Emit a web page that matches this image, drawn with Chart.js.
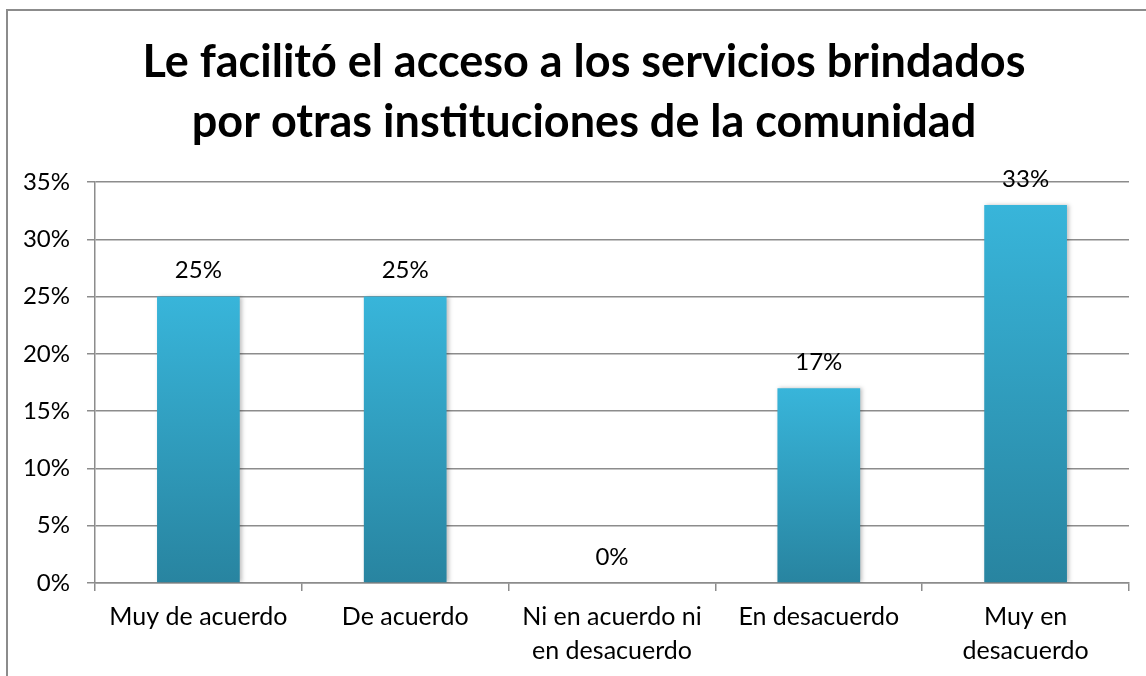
<!DOCTYPE html>
<html lang="es">
<head>
<meta charset="utf-8">
<title>Acceso a servicios de otras instituciones</title>
<script src="https://cdn.jsdelivr.net/npm/chart.js@4/dist/chart.umd.min.js"></script>
<style>
    html, body { margin: 0; padding: 0; background: #fff; overflow: hidden; }
    #marco {
        position: absolute; left: 0; top: 0; width: 1146px; height: 676px;
    }
    #borde {
        position: absolute; left: 6px; top: 9px; width: 1200px; height: 720px;
        border: 2px solid #8c8c8c; box-sizing: border-box;
    }
    #grafica { position: absolute; left: 0; top: 0; }
</style>
</head>
<body>
<div id="marco">
    <div id="borde"></div>
    <canvas id="grafica" width="1146" height="676"></canvas>
</div>
<script>
const categorias = [
    'Muy de acuerdo',
    'De acuerdo',
    ['Ni en acuerdo ni', 'en desacuerdo'],
    'En desacuerdo',
    ['Muy en', 'desacuerdo']
];
const porcentajes = [25, 25, 0, 17, 33];
const tituloLineas = [
    'Le facilitó el acceso a los servicios brindados',
    'por otras instituciones de la comunidad'
];

const FUENTE = 'Lato, "Open Sans", sans-serif';
const COLOR_ARRIBA = '#38b5da';
const COLOR_ABAJO = '#2884a0';

// degradado vertical por barra, de su tope hasta la base
function degradadoBarra(ctx) {
    const chart = ctx.chart;
    const y = chart.scales.y;
    if (!chart.chartArea || !y) return COLOR_ARRIBA;
    const tope = y.getPixelForValue(ctx.raw);
    const base = y.getPixelForValue(0);
    if (base - tope < 1) return COLOR_ARRIBA;
    const g = chart.ctx.createLinearGradient(0, tope, 0, base);
    g.addColorStop(0, COLOR_ARRIBA);
    g.addColorStop(1, COLOR_ABAJO);
    return g;
}

// título centrado en el marco completo (que sigue más allá del borde derecho)
const tituloMarco = {
    id: 'tituloMarco',
    afterDraw(chart) {
        const c = chart.ctx;
        c.save();
        c.font = 'bold 45px ' + FUENTE;
        c.fillStyle = '#000';
        c.textAlign = 'center';
        c.textBaseline = 'middle';
        tituloLineas.forEach((linea, i) => c.fillText(linea, 584, 62 + i * 60));
        c.restore();
    }
};

// sombra suave a la derecha de las barras
const sombraBarras = {
    id: 'sombraBarras',
    beforeDatasetsDraw(chart) {
        const c = chart.ctx;
        c.save();
        c.shadowColor = 'rgba(0,0,0,0.25)';
        c.shadowBlur = 4;
        c.shadowOffsetX = 2;
        c.shadowOffsetY = 0;
    },
    afterDatasetsDraw(chart) {
        chart.ctx.restore();
    }
};

// etiquetas de porcentaje sobre cada barra
const etiquetasValor = {
    id: 'etiquetasValor',
    afterDatasetsDraw(chart) {
        const c = chart.ctx;
        const meta = chart.getDatasetMeta(0);
        const y = chart.scales.y;
        c.save();
        c.font = '24px ' + FUENTE;
        c.fillStyle = '#000';
        c.textAlign = 'center';
        c.textBaseline = 'middle';
        meta.data.forEach((barra, i) => {
            const v = porcentajes[i];
            c.fillText(v + '%', barra.x, y.getPixelForValue(v) - 26);
        });
        c.restore();
    }
};

new Chart(document.getElementById('grafica'), {
    type: 'bar',
    data: {
        labels: categorias,
        datasets: [{
            data: porcentajes,
            backgroundColor: degradadoBarra,
            borderWidth: 0,
            categoryPercentage: 1,
            barPercentage: 0.4
        }]
    },
    options: {
        responsive: false,
        animation: false,
        // arriba queda el espacio del título
        layout: { padding: { left: 0, right: 17, top: 182, bottom: 0 } },
        plugins: {
            legend: { display: false },
            tooltip: { enabled: false },
            title: { display: false }
        },
        scales: {
            x: {
                offset: true,
                grid: {
                    offset: true,
                    drawOnChartArea: false,
                    drawTicks: true,
                    tickLength: 8,
                    color: '#8c8c8c',
                    lineWidth: 1.5
                },
                border: { display: true, color: '#8c8c8c', width: 1.5 },
                ticks: {
                    color: '#000',
                    padding: 9,
                    maxRotation: 0,
                    autoSkip: false,
                    font: { family: FUENTE, size: 25, lineHeight: 1.36 }
                },
                afterFit(scale) { scale.height = 93; }
            },
            y: {
                min: 0,
                max: 35,
                ticks: {
                    stepSize: 5,
                    color: '#000',
                    padding: 17,
                    font: { family: FUENTE, size: 24 },
                    callback: v => v + '%'
                },
                grid: { color: '#8c8c8c', lineWidth: 1.5, tickLength: 8 },
                border: { display: true, color: '#8c8c8c', width: 1.5 },
                afterFit(scale) { scale.width = 95; }
            }
        }
    },
    plugins: [sombraBarras, etiquetasValor, tituloMarco]
});
</script>
</body>
</html>
